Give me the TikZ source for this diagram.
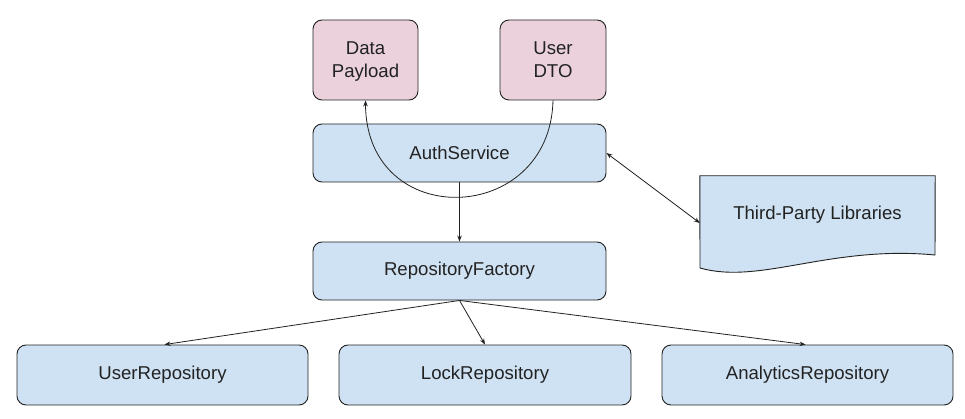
\documentclass[tikz,border=0pt]{standalone}
\usepackage{fontspec}
\setmainfont{Liberation Sans}
\usetikzlibrary{arrows.meta}
\definecolor{boxblue}{HTML}{CFE2F3}
\definecolor{boxpink}{HTML}{EAD1DC}
\definecolor{ink}{HTML}{222222}
\tikzset{
  box/.style={draw=ink, line width=0.9pt, rounded corners=9pt, fill=boxblue,
    text=ink, font=\fontsize{18.6pt}{23pt}\selectfont, align=center, inner sep=0pt},
  pinkbox/.style={box, fill=boxpink, minimum width=105pt, minimum height=80pt},
  widebox/.style={box, minimum width=293pt, minimum height=58pt},
  repobox/.style={box, minimum width=291pt, minimum height=60pt},
  conn/.style={draw=ink, line width=0.8pt, -{Stealth[length=6pt,width=4.5pt]}},
  bconn/.style={draw=ink, line width=0.8pt, {Stealth[length=6pt,width=4.5pt]}-{Stealth[length=6pt,width=4.5pt]}}
}
\begin{document}
\begin{tikzpicture}[x=1pt,y=-1pt]
\useasboundingbox[fill=white] (0,0) rectangle (965,419);
% top boxes
\node[pinkbox, text depth=0pt] (dp) at (365.5,60) {Data\\Payload};
\node[pinkbox, text depth=0pt, minimum width=106pt] (dto) at (553,60) {User\\DTO};
\node[widebox] (auth) at (459.5,153) {AuthService};
\node[widebox] (rf) at (459.5,271) {RepositoryFactory};
\node[repobox] (ur) at (162.5,375) {UserRepository};
\node[repobox, minimum width=292pt] (lr) at (485,375) {LockRepository};
\node[repobox] (ar) at (807.5,375) {AnalyticsRepository};
% third-party document shape
\node[minimum width=235pt, minimum height=80pt, inner sep=0pt] (tpl) at (817.5,216) {};
\draw[draw=ink, line width=0.9pt, fill=boxblue]
  (tpl.north west) -- (tpl.north east) -- (935,255)
  .. controls (830,245) and (760,285) .. (700,268) -- cycle;
\node[text=ink, font=\fontsize{18.6pt}{23pt}\selectfont] (tpltext) at ([yshift=1pt]tpl.center) {Third-Party Libraries};
% connectors
\draw[conn] (dto.south) .. controls (550,226) and (366,232) .. (dp.south);
\draw[conn] (auth.south) -- (rf.north);
\draw[bconn] (auth.east) -- ([yshift=-7pt]tpl.west);
\draw[conn] (rf.south) -- ([xshift=2pt]ur.north);
\draw[conn] (rf.south) -- (lr.north);
\draw[conn] (rf.south) -- ([xshift=-2pt]ar.north);
\end{tikzpicture}
\end{document}
